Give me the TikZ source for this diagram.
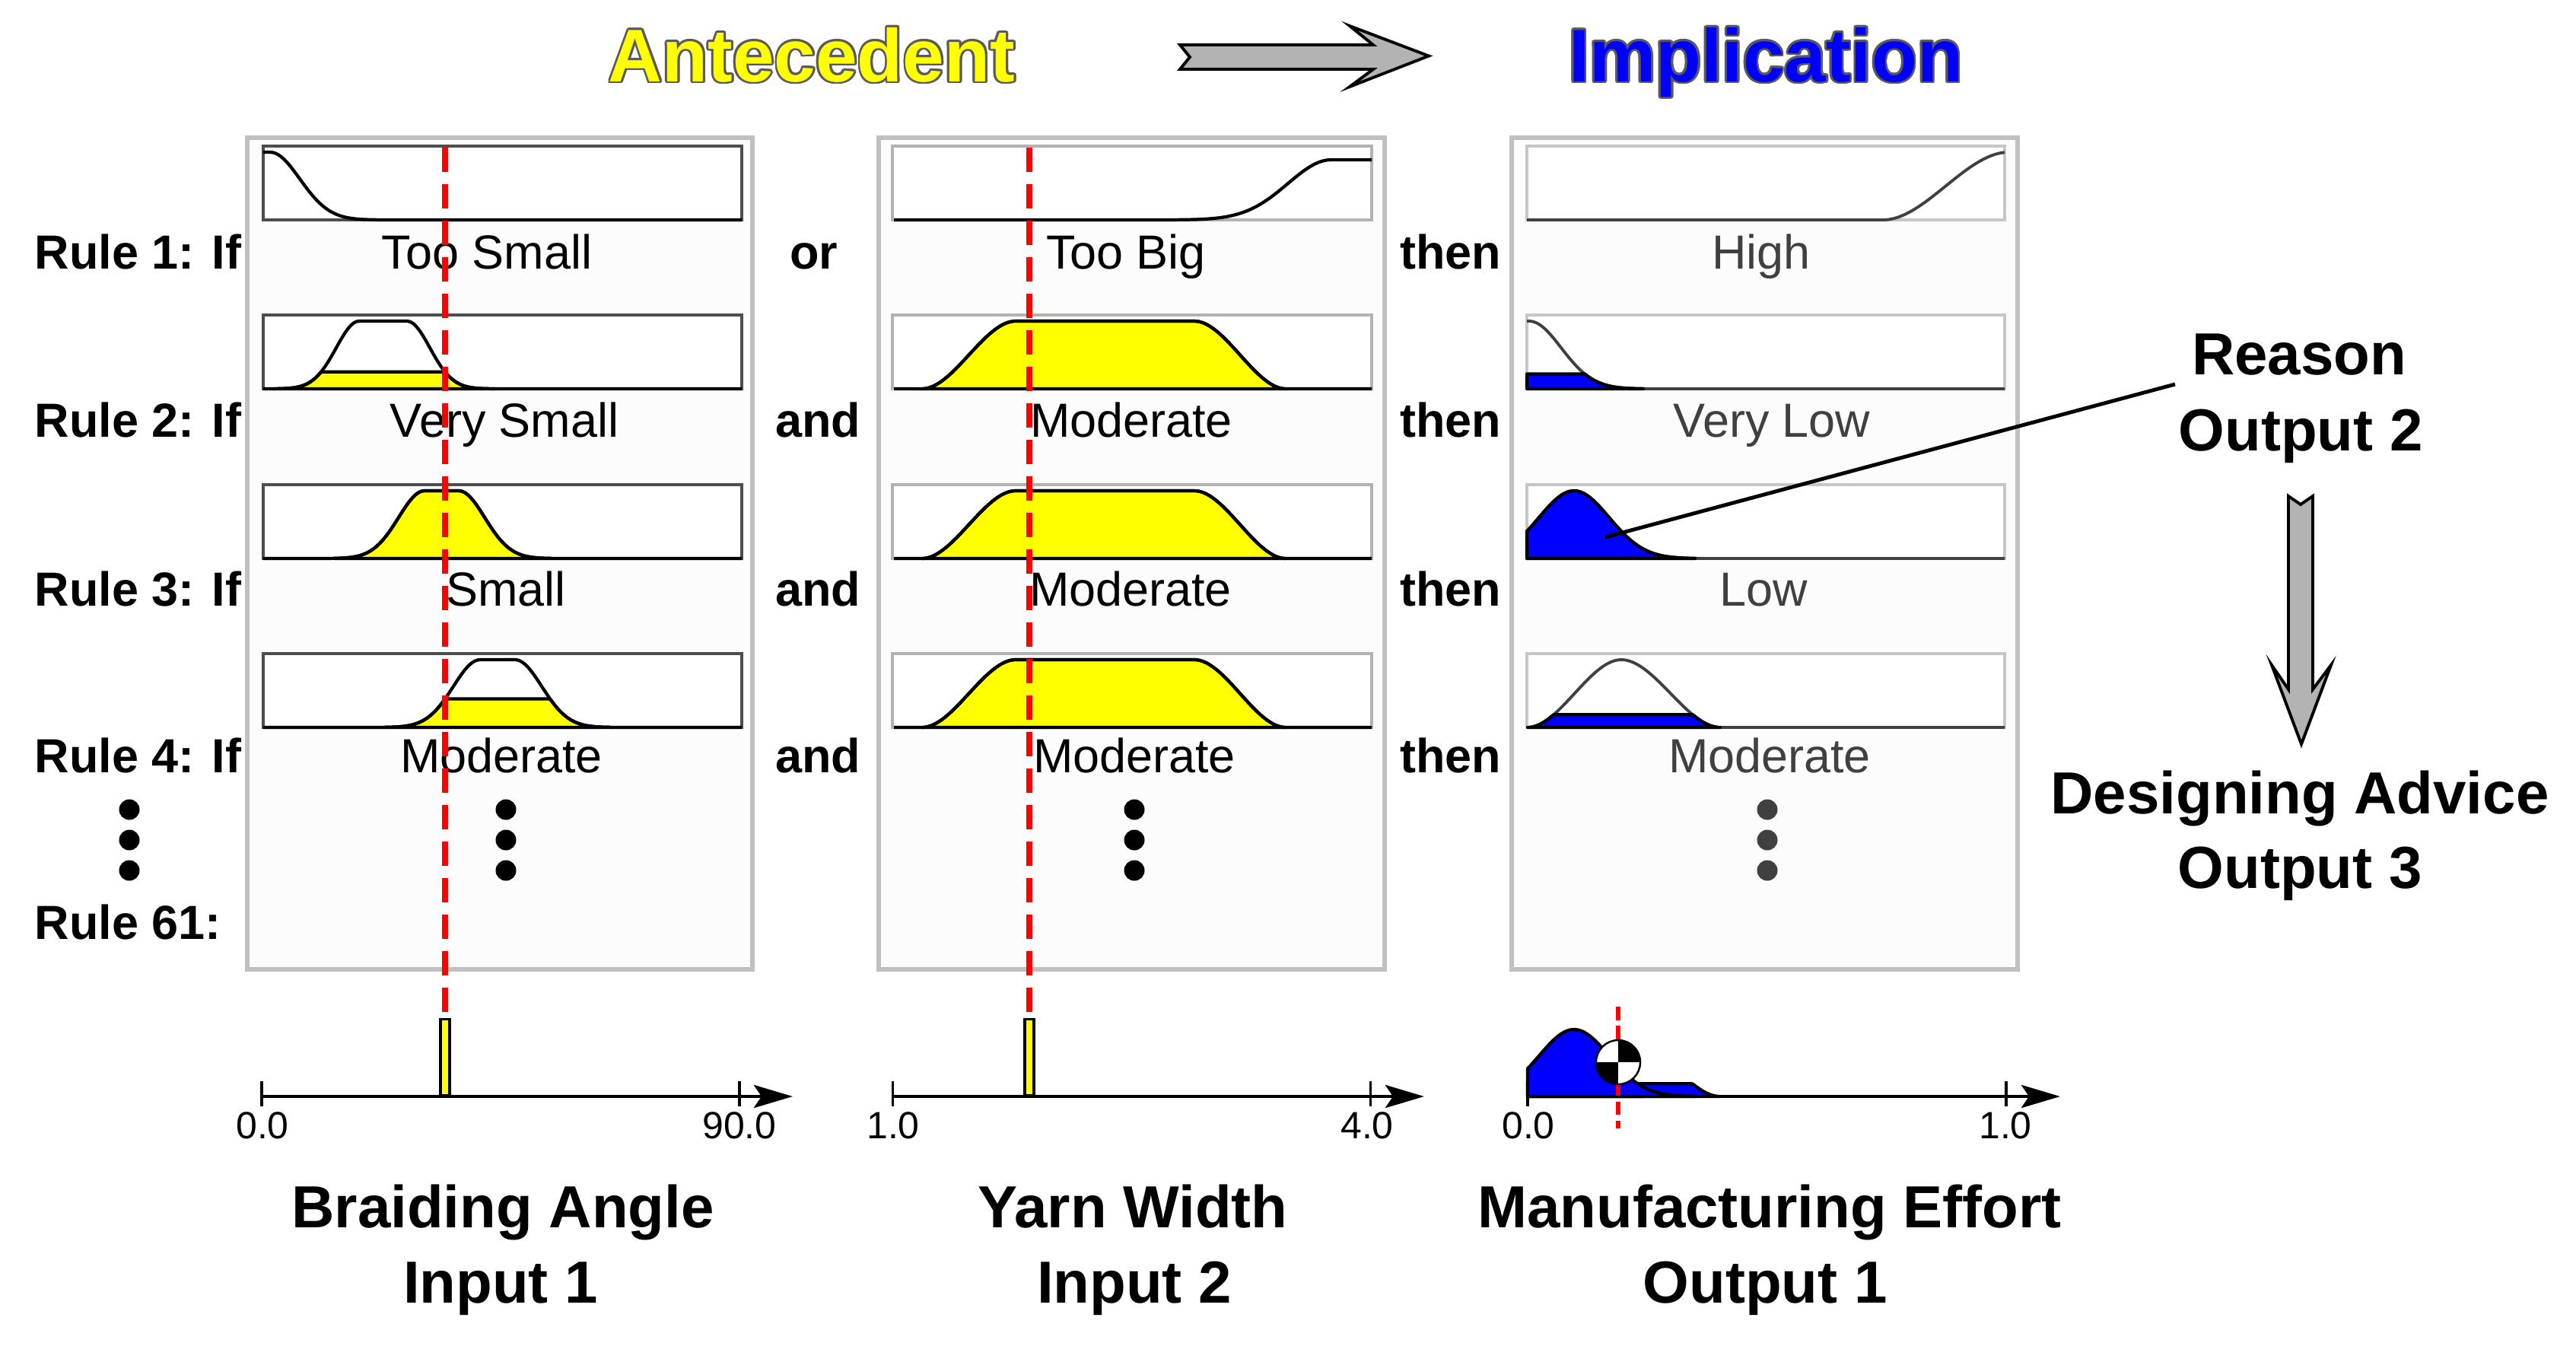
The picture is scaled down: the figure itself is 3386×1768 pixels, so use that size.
\documentclass[tikz,border=0pt]{standalone}
\usepackage{fontspec}
\setmainfont{Liberation Sans}
\usepackage{contour}
\usetikzlibrary{arrows.meta}
\contourlength{0.8pt}

\definecolor{panelgray}{RGB}{192,192,192}
\definecolor{boxdark}{RGB}{77,77,77}
\definecolor{boxlight}{RGB}{178,178,178}
\definecolor{boxpale}{RGB}{198,198,198}
\definecolor{outgray}{RGB}{64,64,64}
\definecolor{titlegray}{RGB}{90,90,90}
\definecolor{arrowgray}{RGB}{179,179,179}
\definecolor{mfyellow}{RGB}{255,255,0}
\definecolor{mfblue}{RGB}{0,0,255}
\definecolor{cutred}{RGB}{255,0,0}

\tikzset{
  declare function={
    gsh(\gv)=exp(-0.5*min(6,max(0,\gv))*min(6,max(0,\gv)));
    gmf(\mx,\mb,\mc,\ms)=gsh((\mb-\mx)/\ms)*gsh((\mx-\mc)/\ms);
    sst(\sv)=min(1,max(0,\sv))*min(1,max(0,\sv))*(3-2*min(1,max(0,\sv)));
    smf(\mx,\ma,\mb,\mc,\md)=sst(min((\mx-\ma)/(\mb-\ma),(\md-\mx)/(\md-\mc)));
  },
}

\begin{document}
\begin{tikzpicture}[x=0.01cm, y=-0.01cm,
    headtitle/.style={font=\fontsize{27.9}{30}\selectfont\bfseries, anchor=base, inner sep=0},
    rulelab/.style={font=\fontsize{17.9}{20}\selectfont\bfseries, anchor=base west, inner sep=0},
    joinlab/.style={font=\fontsize{17.9}{20}\selectfont\bfseries, anchor=base, inner sep=0},
    mflab/.style={font=\fontsize{17.9}{20}\selectfont, anchor=base, inner sep=0},
    numlab/.style={font=\fontsize{14.2}{16}\selectfont, anchor=base, inner sep=0},
    biglab/.style={font=\fontsize{22.2}{26}\selectfont\bfseries, anchor=base, inner sep=0},
    panelbox/.style={draw=panelgray, line width=1.7pt, fill=black!1},
    boxa/.style={draw=boxdark, line width=1.1pt, fill=white},
    boxb/.style={draw=boxlight, line width=1.1pt, fill=white},
    boxc/.style={draw=boxpale, line width=1.1pt, fill=white},
    mfline/.style={black, line width=1.2pt, line join=round, samples=160},
    outline/.style={outgray, line width=1.1pt, line join=round, samples=160},
    cutfill/.style={fill=mfyellow, draw=black, line width=1.2pt, line join=round, samples=120},
    outfill/.style={fill=mfblue, draw=black, line width=1.2pt, line join=round, samples=120},
    cutline/.style={cutred, line width=2.2pt, dash pattern=on 9.1pt off 4.55pt},
    cogline/.style={cutred, line width=1.5pt, dash pattern=on 5pt off 2.1pt},
    inbar/.style={draw=black, fill=mfyellow, line width=0.9pt, minimum width=0.12cm, minimum height=1cm, inner sep=0, anchor=south},
    axisline/.style={line width=1.4pt, -{Stealth[length=0.51cm, width=0.3cm, inset=0.1cm]}},
    axtick/.style={line width=1.1pt},
    rdot/.style={circle, fill=black, inner sep=0, minimum size=0.27cm},
    gdot/.style={circle, fill=outgray, inner sep=0, minimum size=0.27cm},
    fatarrow/.style={fill=arrowgray, draw=black, line width=1.1pt, line join=miter},
    leader/.style={line width=1.4pt},
    cog/.style={circle, draw=black, line width=0.7pt, fill=white, minimum size=0.58cm, inner sep=0,
      path picture={\fill[black] (path picture bounding box.center) rectangle (path picture bounding box.north east);
                    \fill[black] (path picture bounding box.center) rectangle (path picture bounding box.south west);}}]
\useasboundingbox (0,0) rectangle (3386,1768);

% titles
\node[headtitle] (ante) at (1067,107) {\textcolor{mfyellow}{\contour{titlegray}{Antecedent}}};
\node[headtitle] (impl) at (2321,107) {\textcolor{mfblue}{\contour{titlegray}{Implication}}};
% fat arrow between titles
\filldraw[fatarrow] (1551,59) -- (1805,59) -- (1774,34) -- (1878,73.5) -- (1774,114)
  -- (1805,91) -- (1551,91) -- (1564,75) -- cycle;

% panels
\draw[panelbox] (325,181) rectangle (989,1274);
\draw[panelbox] (1155,181) rectangle (1820,1274);
\draw[panelbox] (1987,181) rectangle (2652,1274);

% membership boxes
\foreach \t in {192,414,637,859} {
  \draw[boxa] (346,\t) rectangle (975,\t+97);
  \draw[boxb] (1173,\t) rectangle (1803,\t+97);
  \draw[boxc] (2007,\t) rectangle (2635,\t+97);
}

% input 1: braiding angle
\pgfmathsetmacro{\lvb}{gmf(585,472,535,30)}
\pgfmathsetmacro{\lvd}{gmf(585,631,677,35)}
\draw[mfline] plot[domain=346:975] (\x,{289-89*gmf(\x,-100,355,39)});
\filldraw[cutfill] (360,511) -- plot[domain=360:650] (\x,{511-89*min(\lvb,gmf(\x,472,535,30))}) -- (650,511) -- cycle;
\draw[mfline] plot[domain=346:975] (\x,{511-89*gmf(\x,472,535,30)});
\filldraw[cutfill] (440,734) -- plot[domain=440:725] (\x,{734-89*gmf(\x,558,603,34)}) -- (725,734) -- cycle;
\draw[mfline] plot[domain=346:975] (\x,{734-89*gmf(\x,558,603,34)});
\filldraw[cutfill] (505,956) -- plot[domain=505:805] (\x,{956-89*min(\lvd,gmf(\x,631,677,35))}) -- (805,956) -- cycle;
\draw[mfline] plot[domain=346:975] (\x,{956-89*gmf(\x,631,677,35)});

% input 2: yarn width
\draw[mfline] plot[domain=1175:1803] (\x,{289-79*gmf(\x,1750,5000,57)});
\foreach \yb in {511,734,956} {
  \filldraw[cutfill] (1212,\yb) -- plot[domain=1212:1690] (\x,{\yb-89*smf(\x,1212,1335,1570,1690)}) -- (1690,\yb) -- cycle;
  \draw[mfline] plot[domain=1175:1803] (\x,{\yb-89*smf(\x,1212,1335,1570,1690)});
}

% output 1: manufacturing effort
\draw[outline] plot[domain=2007:2635] (\x,{289-89*smf(\x,2475,2640,9000,9100)});
\draw[outline] plot[domain=2007:2635] (\x,{511-89*gmf(\x,-100,2010,42)});
\filldraw[outfill] (2007,511) -- plot[domain=2007:2160] (\x,{511-89*min(0.22,gmf(\x,-100,2010,42))}) -- (2160,511) -- cycle;
\draw[outline] plot[domain=2007:2635] (\x,{734-89*gmf(\x,2069,2069,46)});
\filldraw[outfill] (2007,734) -- plot[domain=2007:2228] (\x,{734-89*gmf(\x,2069,2069,46)}) -- (2228,734) -- cycle;
\draw[outline] plot[domain=2007:2635] (\x,{956-89*smf(\x,2008,2131,2131,2261)});
\filldraw[outfill] (2008,956) -- plot[domain=2008:2261] (\x,{956-89*min(0.19,smf(\x,2008,2131,2131,2261))}) -- (2261,956) -- cycle;

% rule texts
\node[rulelab] (r1) at (45,353) {Rule 1: If};
\node[rulelab] (r2) at (45,574) {Rule 2: If};
\node[rulelab] (r3) at (45,796) {Rule 3: If};
\node[rulelab] (r4) at (45,1015) {Rule 4: If};
\node[rulelab] (r61) at (45,1234) {Rule 61:};
\node[joinlab] (j1) at (1070,353) {or};
\node[joinlab] (j2) at (1075,574) {and};
\node[joinlab] (j3) at (1075,796) {and};
\node[joinlab] (j4) at (1075,1015) {and};
\foreach \yb [count=\k] in {353,574,796,1015}
  \node[joinlab] (then\k) at (1907,\yb) {then};

% membership labels
\node[mflab] (ba1) at (640,353) {Too Small};
\node[mflab] (ba2) at (663,574) {Very Small};
\node[mflab] (ba3) at (665,796) {Small};
\node[mflab] (ba4) at (659,1015) {Moderate};
\node[mflab] (yw1) at (1480,353) {Too Big};
\node[mflab] (yw2) at (1487,574) {Moderate};
\node[mflab] (yw3) at (1486,796) {Moderate};
\node[mflab] (yw4) at (1491,1015) {Moderate};
\node[mflab, text=outgray] (me1) at (2315,353) {High};
\node[mflab, text=outgray] (me2) at (2329,574) {Very Low};
\node[mflab, text=outgray] (me3) at (2318,796) {Low};
\node[mflab, text=outgray] (me4) at (2326,1015) {Moderate};

% dots
\foreach \cy [count=\k] in {1064,1104,1144} {
  \node[rdot] (dr\k) at (170,\cy) {};
  \node[rdot] (da\k) at (665,\cy) {};
  \node[rdot] (db\k) at (1491,\cy) {};
  \node[gdot] (dc\k) at (2323,\cy) {};
}

% axes
\coordinate (a1s) at (344,1441);   \coordinate (a1e) at (1042,1441);
\coordinate (a2s) at (1173.5,1441); \coordinate (a2e) at (1872,1441);
\coordinate (a3s) at (2008,1441);  \coordinate (a3e) at (2708,1441);

% aggregated output
\filldraw[outfill] (a3s) -- plot[domain=2008:2261] (\x,{1441-88*min(0.19,smf(\x,2008,2131,2131,2261))}) -- (2261,1441) -- cycle;
\filldraw[outfill] (a3s) -- plot[domain=2008:2160] (\x,{1441-88*min(0.22,gmf(\x,-100,2010,42))}) -- (2160,1441) -- cycle;
\filldraw[outfill] (a3s) -- plot[domain=2008:2228] (\x,{1441-88*gmf(\x,2069,2069,46)}) -- (2228,1441) -- cycle;

\foreach \s/\e/\ta/\tb in {a1s/a1e/344/972, a2s/a2e/1173.5/1801.5, a3s/a3e/2008/2637} {
  \draw[axisline] (\s) -- (\e);
  \draw[axtick] (\ta,1421) -- (\ta,1454);
  \draw[axtick] (\tb,1421) -- (\tb,1454);
}
\node[numlab] (n1) at (345,1496) {0.0};
\node[numlab] (n2) at (972,1496) {90.0};
\node[numlab] (n3) at (1174,1496) {1.0};
\node[numlab] (n4) at (1797,1496) {4.0};
\node[numlab] (n5) at (2009,1496) {0.0};
\node[numlab] (n6) at (2636,1496) {1.0};

% crisp inputs
\node[inbar] (bar1) at (585,1441) {};
\node[inbar] (bar2) at (1353,1441) {};
\coordinate (cut1) at (585,194);
\coordinate (cut2) at (1353,194);
\draw[cutline] (cut1) -- (bar1.north);
\draw[cutline] (cut2) -- (bar2.north);

% centroid
\coordinate (cogtop) at (2127,1323);
\coordinate (cogbot) at (2127,1483);
\draw[cogline] (cogtop) -- (cogbot);
\node[cog] (cog) at (2127,1396) {};

% axis names
\node[biglab] (ba) at (661,1613) {Braiding Angle};
\node[biglab] (in1) at (658,1712) {Input 1};
\node[biglab] (yw) at (1489,1613) {Yarn Width};
\node[biglab] (in2) at (1491,1712) {Input 2};
\node[biglab] (me) at (2326,1613) {Manufacturing Effort};
\node[biglab] (out1) at (2320,1712) {Output 1};

% reason and advice
\node[biglab] (rsn) at (3022,492) {Reason};
\node[biglab] (out2) at (3024,592) {Output 2};
\coordinate (rsnend) at (2859,505);
\coordinate (lowpt) at (2110,706);
\draw[leader] (rsnend) -- (lowpt);
\filldraw[fatarrow] (3008,652) -- (3024,663) -- (3040,652) -- (3040,906) -- (3064,874)
  -- (3025,978) -- (2986,874) -- (3008,906) -- cycle;
\node[biglab] (adv) at (3023,1069) {Designing Advice};
\node[biglab] (out3) at (3023,1167) {Output 3};
\end{tikzpicture}
\end{document}
